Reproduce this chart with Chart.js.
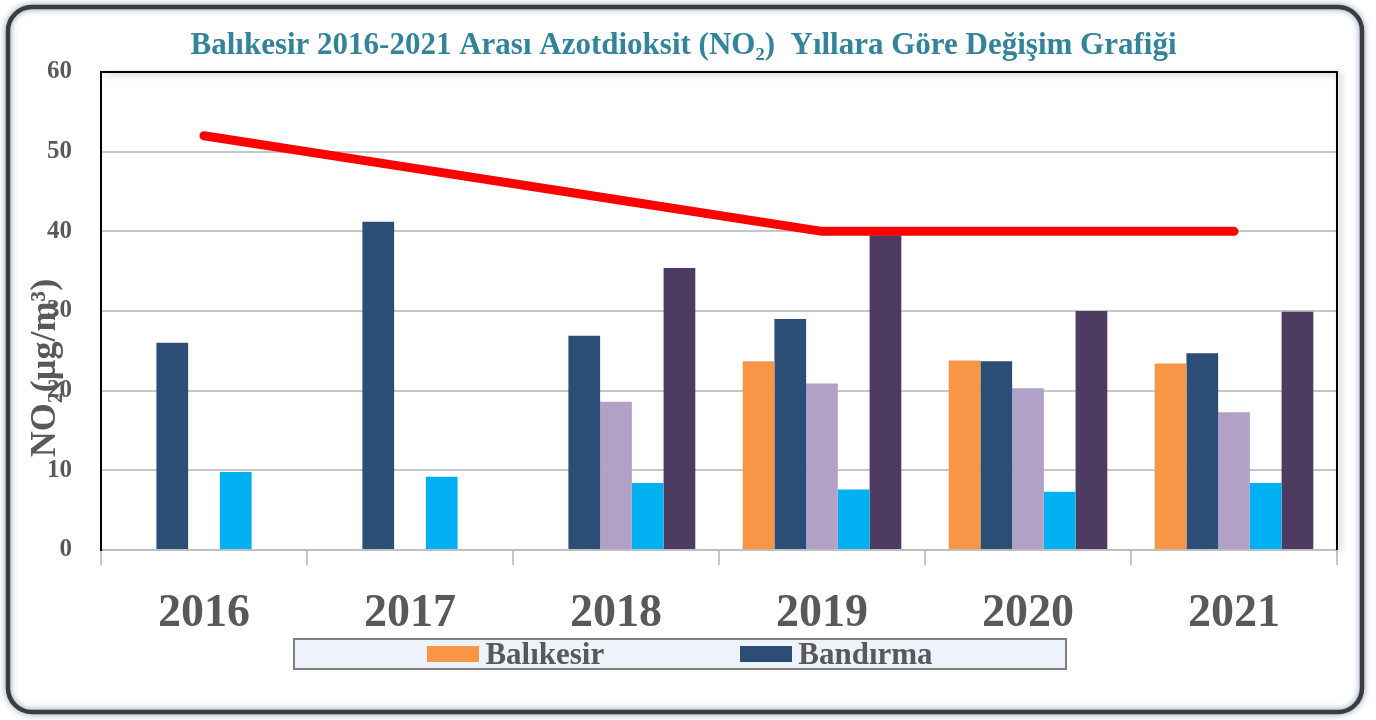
<!DOCTYPE html>
<html>
<head>
<meta charset="utf-8">
<script src="https://cdn.jsdelivr.net/npm/chart.js@4.4.1/dist/chart.umd.min.js"></script>
<style>
  html, body { margin: 0; padding: 0; background: #fff; }
  #wrap { position: relative; width: 1376px; height: 720px; }
  #legend {
    position: absolute; left: 293px; top: 638px; width: 774px; height: 32px;
    box-sizing: border-box; border: 2px solid #7f7f7f; background: #EEF2FA;
    display: flex; justify-content: center; align-items: center; gap: 136px;
    font: bold 31px "Liberation Serif", serif; color: #595959; line-height: 28px;
  }
  #legend .item { display: flex; align-items: center; }
  #legend .sw { width: 52px; height: 16px; margin-right: 6px; }
</style>
</head>
<body>
<div id="wrap">
  <canvas id="no2Chart"></canvas>
  <div id="legend"></div>
</div>
<script>
const years = ['2016', '2017', '2018', '2019', '2020', '2021'];
const balikesir = [null, null, null, 23.7, 23.8, 23.4];
const bandirma = [26.0, 41.2, 26.9, 29.0, 23.7, 24.7];
const seri3 = [null, null, 18.6, 20.9, 20.3, 17.3];
const seri4 = [9.8, 9.2, 8.4, 7.6, 7.3, 8.4];
const seri5 = [null, null, 35.4, 39.5, 30.0, 29.9];
const sinirDeger = [52, 48, 44, 40, 40, 40];
const yTicks = [0, 10, 20, 30, 40, 50, 60];

const titleText = 'Balıkesir 2016-2021 Arası Azotdioksit (NO₂)  Yıllara Göre Değişim Grafiği';
const yTitleText = 'NO₂(µg/m³)';
const serif = '"Liberation Serif", serif';

// white page + rounded outer frame
const framePlugin = {
  id: 'frame',
  beforeDraw(chart) {
    const c = chart.ctx;
    c.save();
    c.fillStyle = '#fff';
    c.fillRect(0, 0, chart.width, chart.height);
    c.shadowColor = 'rgba(70,100,150,0.7)';
    c.shadowBlur = 6;
    c.strokeStyle = '#3c3c3c';
    c.lineWidth = 4.5;
    c.beginPath();
    c.roundRect(8, 7, 1354, 705, 24);
    c.stroke();
    c.restore();
  }
};

// black top/right border of the plot area
const plotBoxPlugin = {
  id: 'plotBox',
  beforeDatasetsDraw(chart) {
    const {left, top, right, bottom} = chart.chartArea;
    const c = chart.ctx;
    c.save();
    c.shadowColor = 'rgba(0,0,0,0.35)';
    c.shadowBlur = 6;
    c.shadowOffsetX = 3;
    c.shadowOffsetY = 2;
    c.strokeStyle = '#000';
    c.lineWidth = 2;
    c.beginPath();
    c.moveTo(left, top);
    c.lineTo(right, top);
    c.lineTo(right, bottom);
    c.stroke();
    c.restore();
  }
};

// rotated y title, overlapping the ticks like the original
const yTitlePlugin = {
  id: 'yTitle',
  afterDraw(chart) {
    const c = chart.ctx;
    c.save();
    c.translate(46, 368);
    c.rotate(-Math.PI / 2);
    c.font = 'bold 36px ' + serif;
    c.fillStyle = '#595959';
    c.textAlign = 'center';
    c.textBaseline = 'middle';
    c.fillText(yTitleText, 0, 0);
    c.restore();
  }
};

const barCommon = { type: 'bar', order: 1, categoryPercentage: 0.77, barPercentage: 1.0, borderWidth: 0 };

const chart = new Chart(document.getElementById('no2Chart'), {
  data: {
    labels: years,
    datasets: [
      { type: 'line', label: 'Sınır Değer', data: sinirDeger, order: 0,
        borderColor: '#FF0000', borderWidth: 9, borderCapStyle: 'round', borderJoinStyle: 'round',
        pointRadius: 0, tension: 0, fill: false, showInLegend: false },
      { ...barCommon, label: 'Balıkesir', data: balikesir, backgroundColor: '#F79646', showInLegend: true },
      { ...barCommon, label: 'Bandırma', data: bandirma, backgroundColor: '#2C4D75', showInLegend: true },
      { ...barCommon, label: 'Seri 3', data: seri3, backgroundColor: '#B2A1C7', showInLegend: false },
      { ...barCommon, label: 'Seri 4', data: seri4, backgroundColor: '#00B0F0', showInLegend: false },
      { ...barCommon, label: 'Seri 5', data: seri5, backgroundColor: '#4D3B62', showInLegend: false }
    ]
  },
  options: {
    responsive: true,
    maintainAspectRatio: false,
    animation: false,
    layout: { padding: { left: 30, right: 39, top: 15, bottom: 84 } },
    scales: {
      x: {
        afterFit: s => { s.height = 86; },
        grid: { drawOnChartArea: false, tickLength: 15, color: '#c6c6c6', lineWidth: 2 },
        border: { color: '#bfbfbf', width: 2 },
        ticks: { color: '#595959', padding: 22, font: { family: serif, size: 46, weight: 'bold' } }
      },
      y: {
        min: 0,
        max: 60,
        afterFit: s => { s.width = 71; },
        afterBuildTicks: s => { s.ticks = yTicks.map(v => ({ value: v })); },
        grid: { color: '#c6c6c6', lineWidth: 2, drawTicks: false },
        border: { color: '#000', width: 2 },
        ticks: { color: '#595959', padding: 29, font: { family: serif, size: 25, weight: 'bold' } }
      }
    },
    plugins: {
      legend: { display: false },
      tooltip: { enabled: false },
      title: {
        display: true,
        text: titleText,
        color: '#31849B',
        font: { family: serif, size: 31, weight: 'bold' },
        padding: { top: 12, bottom: 7.8 }
      }
    }
  },
  plugins: [framePlugin, plotBoxPlugin, yTitlePlugin]
});

// html legend built from the datasets flagged for it
document.getElementById('legend').innerHTML = chart.data.datasets
  .filter(d => d.showInLegend)
  .map(d => `<div class="item"><span class="sw" style="background:${d.backgroundColor}"></span>${d.label}</div>`)
  .join('');
</script>
</body>
</html>
